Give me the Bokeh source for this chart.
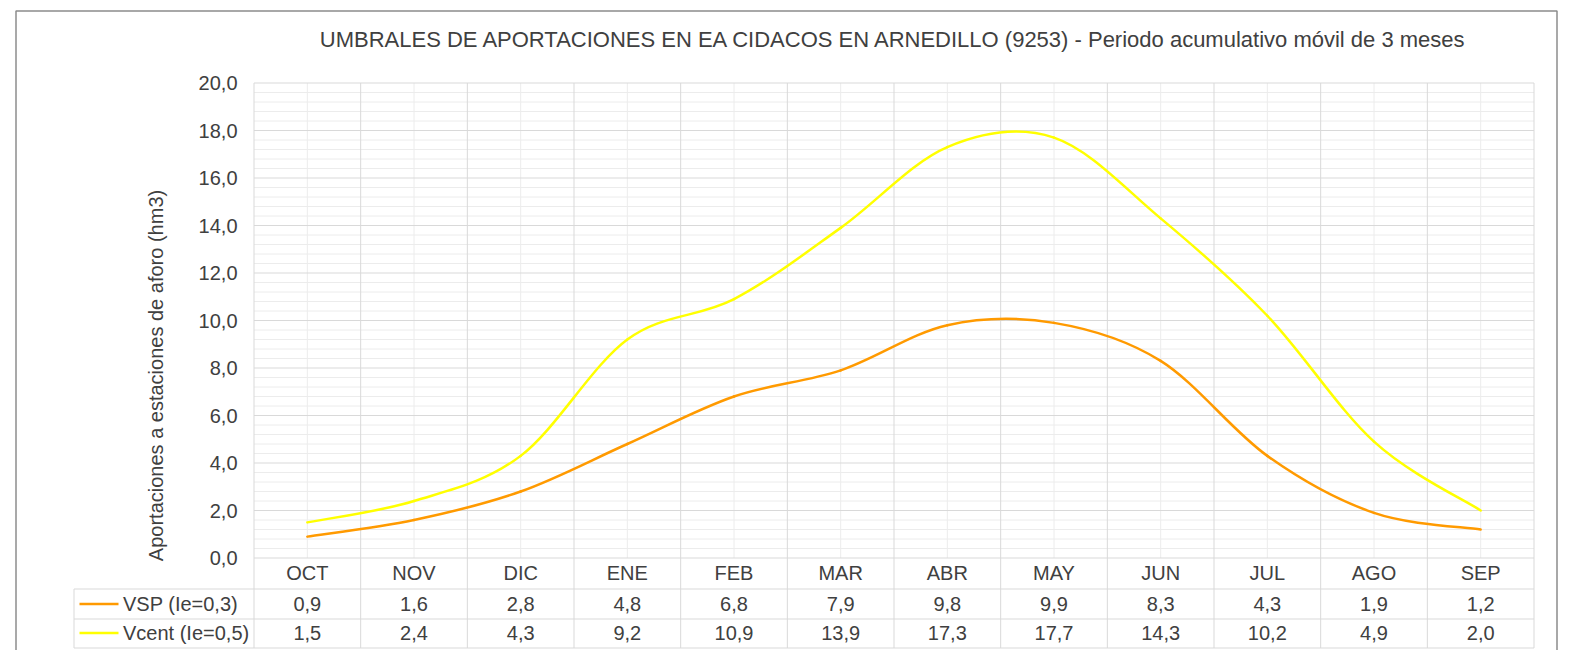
import math
from bokeh.plotting import figure
from bokeh.models import Range1d
from bokeh.core.properties import value
from bokeh.embed import file_html
from bokeh.resources import INLINE

# ---------------- data ----------------
months = ["OCT", "NOV", "DIC", "ENE", "FEB", "MAR", "ABR", "MAY", "JUN", "JUL", "AGO", "SEP"]
vsp = [0.9, 1.6, 2.8, 4.8, 6.8, 7.9, 9.8, 9.9, 8.3, 4.3, 1.9, 1.2]
vcent = [1.5, 2.4, 4.3, 9.2, 10.9, 13.9, 17.3, 17.7, 14.3, 10.2, 4.9, 2.0]
series_names = ["VSP (Ie=0,3)", "Vcent (Ie=0,5)"]
y_ticks = [0, 2, 4, 6, 8, 10, 12, 14, 16, 18, 20]
y_tick_labels = ["0,0", "2,0", "4,0", "6,0", "8,0", "10,0", "12,0", "14,0", "16,0", "18,0", "20,0"]
y_minor_step = 0.4
title_text = "UMBRALES DE APORTACIONES EN EA CIDACOS EN ARNEDILLO (9253) - Periodo acumulativo móvil de 3 meses"
y_label = "Aportaciones a estaciones de aforo (hm3)"

# ---------------- style / layout (pixels) ----------------
ORANGE = "#FF9A00"
YELLOW = "#FFFF00"
TXT = "#404040"
MAJ = "#d9d9d9"
MIN = "#ececec"
BORDER = "#8c8c8c"
FONT = value("Liberation Sans")
FS = "20px"

W, H = 1558, 650
PX_L, PX_R, PX_T, PX_B = 253.5, 1533.5, 82.5, 557.5   # plot area
N = len(months)
Y_MAX = y_ticks[-1]
u = (PX_R - PX_L) / N          # px per category
v = (PX_B - PX_T) / Y_MAX      # px per unit


def X(px):
    return (px - PX_L) / u


def Y(py):
    return (PX_B - py) / v


centers = [i + 0.5 for i in range(N)]
boundaries = list(range(N + 1))
n_minor = int(round(Y_MAX / y_minor_step))
y_minor = [round(k * y_minor_step, 3) for k in range(n_minor + 1)]
y_minor = [y for y in y_minor if all(abs(y - t) > 1e-9 for t in y_ticks)]


def smooth_segments(xs, ys, t=1.0 / 6.0):
    n = len(xs)
    out = dict(x0=[], y0=[], x1=[], y1=[], cx0=[], cy0=[], cx1=[], cy1=[])
    for i in range(n - 1):
        a = max(i - 1, 0)
        d = min(i + 2, n - 1)
        out["x0"].append(xs[i]); out["y0"].append(ys[i])
        out["x1"].append(xs[i + 1]); out["y1"].append(ys[i + 1])
        out["cx0"].append(xs[i] + (xs[i + 1] - xs[a]) * t)
        out["cy0"].append(ys[i] + (ys[i + 1] - ys[a]) * t)
        out["cx1"].append(xs[i + 1] - (xs[d] - xs[i]) * t)
        out["cy1"].append(ys[i + 1] - (ys[d] - ys[i]) * t)
    return out


def fmt(x):
    return f"{x:.1f}".replace(".", ",")


p = figure(width=W, height=H,
           x_range=Range1d(X(0), X(W)), y_range=Range1d(Y(H), Y(0)),
           x_axis_location=None, y_axis_location=None,
           min_border=0, output_backend="svg", toolbar_location=None)
p.min_border_left = p.min_border_right = p.min_border_top = p.min_border_bottom = 0
p.outline_line_color = None
p.background_fill_color = "white"
p.border_fill_color = "white"
p.grid.visible = False

# outer chart border
p.line(x=[X(15.5), X(15.5), X(1556.5), X(1556.5)],
       y=[Y(H + 20), Y(10.5), Y(10.5), Y(H + 20)],
       line_color=BORDER, line_width=1.5)

# minor grid
p.segment(x0=[0] * len(y_minor), y0=y_minor, x1=[N] * len(y_minor), y1=y_minor,
          line_color=MIN, line_width=1)
p.segment(x0=centers, y0=[0] * N, x1=centers, y1=[Y_MAX] * N,
          line_color=MIN, line_width=1)
# major grid (vertical ones continue through the category row and the data table)
p.segment(x0=[0] * len(y_ticks), y0=y_ticks, x1=[N] * len(y_ticks), y1=y_ticks,
          line_color=MAJ, line_width=1)
p.segment(x0=boundaries, y0=[Y(647.5)] * len(boundaries), x1=boundaries, y1=[Y_MAX] * len(boundaries),
          line_color=MAJ, line_width=1)

# data table rules
row_lines = [Y(588.5), Y(618.5), Y(647.5)]
p.segment(x0=[X(73.5)] * 3, y0=row_lines, x1=[N] * 3, y1=row_lines, line_color=MAJ, line_width=1)
p.segment(x0=[X(73.5)], y0=[Y(588.5)], x1=[X(73.5)], y1=[Y(647.5)], line_color=MAJ, line_width=1)

# smoothed series lines
for ys, col in ((vcent, YELLOW), (vsp, ORANGE)):
    p.bezier(line_color=col, line_width=2.5, line_cap="round", **smooth_segments(centers, ys))

# title
p.text(x=[N / 2], y=[Y(39)], text=[title_text], text_align="center", text_baseline="middle",
       text_font=FONT, text_font_size="22px", text_color=TXT)

# y axis tick labels and title
p.text(x=[X(237)] * len(y_ticks), y=y_ticks, text=y_tick_labels, text_align="right",
       text_baseline="middle", text_font=FONT, text_font_size=FS, text_color=TXT)
p.text(x=[X(155)], y=[Y(375)], text=[y_label], angle=math.pi / 2, text_align="center",
       text_baseline="middle", text_font=FONT, text_font_size=FS, text_color=TXT)

# category labels (top row of the data table)
p.text(x=centers, y=[Y(572.5)] * N, text=months, text_align="center", text_baseline="middle",
       text_font=FONT, text_font_size=FS, text_color=TXT)

# data table rows
rows_py = [603.5, 632.5]
for ys, col, name, ry in ((vsp, ORANGE, series_names[0], Y(rows_py[0])),
                          (vcent, YELLOW, series_names[1], Y(rows_py[1]))):
    p.text(x=centers, y=[ry] * N, text=[fmt(v_) for v_ in ys], text_align="center",
           text_baseline="middle", text_font=FONT, text_font_size=FS, text_color=TXT)
    p.segment(x0=[X(79)], y0=[ry], x1=[X(118)], y1=[ry], line_color=col, line_width=2.5)
    p.text(x=[X(122.5)], y=[ry], text=[name], text_align="left", text_baseline="middle",
           text_font=FONT, text_font_size=FS, text_color=TXT)

open("out.html", "w").write(file_html(p, INLINE))
